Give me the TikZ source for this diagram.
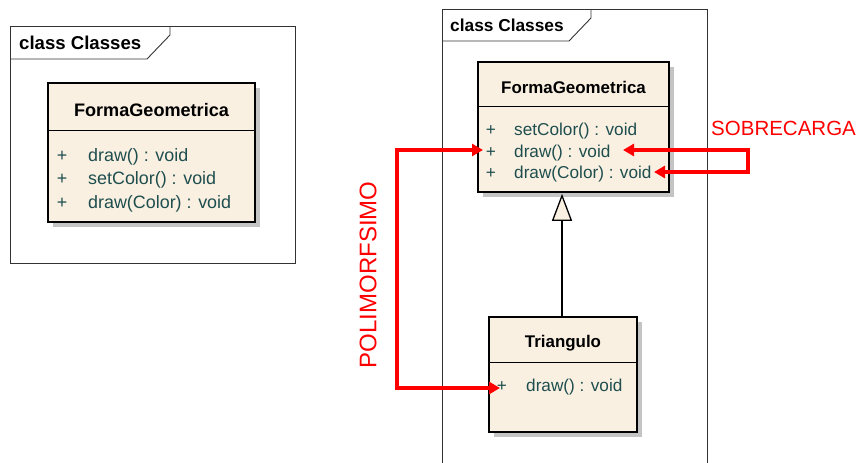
\documentclass[tikz,border=0pt]{standalone}
\usepackage{fontspec}
\setmainfont{Liberation Sans}
\usetikzlibrary{arrows.meta,shadows,calc}

\definecolor{umlfill}{HTML}{FAF0E2}
\definecolor{umlop}{HTML}{1E4E4E}
\definecolor{umlshadow}{HTML}{C4C4C4}
\definecolor{framecol}{HTML}{333333}

\tikzset{
  frameline/.style={draw=framecol, line width=0.9pt},
  framelabel/.style={anchor=west, inner sep=0pt, font=\bfseries\fontsize{#1}{#1}\selectfont},
  classbox/.style={draw=black, line width=1.6pt, fill=umlfill, inner sep=0pt,
    drop shadow={shadow xshift=5pt, shadow yshift=-5pt, fill=umlshadow, opacity=1}},
  divider/.style={draw=black, line width=1.2pt},
  classname/.style={inner sep=0pt, font=\bfseries\fontsize{#1}{#1}\selectfont},
  optext/.style={inner sep=0pt, text=umlop, font=\fontsize{#1}{#1}\selectfont},
  inherit/.style={draw=black, line width=1.3pt,
    -{Triangle[open, length=27pt, width=20pt, fill=umlfill]}},
  redlink/.style={draw=red, line width=3.6pt, line join=miter,
    {Triangle[length=11pt, width=12pt]}-{Triangle[length=11pt, width=12pt]}},
  redlabel/.style={inner sep=0pt, text=red, font=\fontsize{#1}{#1}\selectfont},
}

\begin{document}
\begin{tikzpicture}[x=1pt, y=-1pt]
  \useasboundingbox (0,0) rectangle (862,463);
  \clip (0,0) rectangle (862,463);

  % ---------- left diagram: single class ----------
  \draw[frameline] (10,26) rectangle (295,263);
  \draw[frameline] (10,59) -- (147,59) -- (170,35) -- (170,26);
  \node[framelabel=18.6] (lframe) at (19,43) {class Classes};

  \node[classbox, minimum width=207pt, minimum height=139pt] (fgL) at (151.5,152.5) {};
  \draw[divider] ($(fgL.north west)+(0,48)$) -- ($(fgL.north east)+(0,48)$);
  \node[classname=18.1] (fgLname) at (151.5,110) {FormaGeometrica};
  \node[optext=17.9] (fgLp1) at (62,156) {+};
  \node[optext=17.9] (fgLp2) at (62,179) {+};
  \node[optext=17.9] (fgLp3) at (62,203) {+};
  \node[optext=17.9, anchor=west] (fgLop1) at (88,156.5) {draw() : void};
  \node[optext=17.9, anchor=west] (fgLop2) at (88,179.5) {setColor() : void};
  \node[optext=17.9, anchor=west] (fgLop3) at (88,203.5) {draw(Color) : void};

  % ---------- right diagram: inheritance ----------
  \draw[frameline] (442,9) rectangle (707,480);
  \draw[frameline] (442,41) -- (569,41) -- (591,18) -- (591,9);
  \node[framelabel=17.3] (rframe) at (450,25) {class Classes};

  \node[classbox, minimum width=191pt, minimum height=130pt] (fgR) at (573.5,127) {};
  \draw[divider] ($(fgR.north west)+(0,45)$) -- ($(fgR.north east)+(0,45)$);
  \node[classname=16.9] (fgRname) at (573.5,87) {FormaGeometrica};
  \node[optext=17.2] (fgRp1) at (491,131) {+};
  \node[optext=17.2] (fgRp2) at (491,153) {+};
  \node[optext=17.2] (fgRp3) at (491,174) {+};
  \node[optext=17.2, anchor=west] (fgRop1) at (514,131.5) {setColor() : void};
  \node[optext=17.2, anchor=west] (fgRop2) at (514,153.5) {draw() : void};
  \node[optext=17.2, anchor=west] (fgRop3) at (514,174.5) {draw(Color) : void};

  \node[classbox, minimum width=148pt, minimum height=115pt] (tri) at (563,374.5) {};
  \draw[divider] ($(tri.north west)+(0,46)$) -- ($(tri.north east)+(0,46)$);
  \node[classname=16.9] (triname) at (563,343) {Triangulo};
  \node[optext=17.2] (trip1) at (502,387) {+};
  \node[optext=17.2, anchor=west] (triop1) at (526,387.5) {draw() : void};

  % generalisation
  \draw[inherit] ($(tri.north)+(-1,0)$) -- ($(tri.north |- fgR.south)+(-1,1)$);

  % polymorphism link
  \coordinate (polyA) at (483,150);
  \coordinate (polyB) at (500,388);
  \coordinate (polyBar) at (397,270);
  \draw[redlink] (polyA) -| (polyBar) |- (polyB);
  \node[redlabel=24, rotate=90] (polylabel) at (368,275) {POLIMORFSIMO};

  % overloading link
  \coordinate (overA) at (623,150);
  \coordinate (overB) at (654,172);
  \coordinate (overBar) at (748,161);
  \draw[redlink] (overA) -| (overBar) |- (overB);
  \node[redlabel=20.5, anchor=west] (overlabel) at (711,128) {SOBRECARGA};
\end{tikzpicture}
\end{document}
